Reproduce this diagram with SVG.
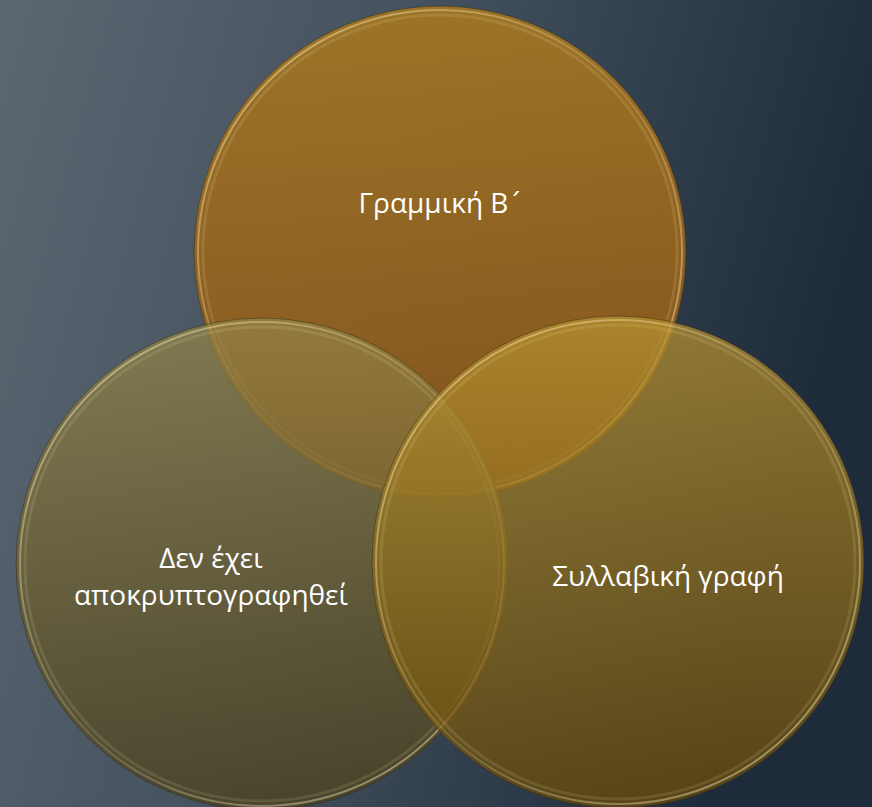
<svg xmlns="http://www.w3.org/2000/svg" width="872" height="807" viewBox="0 0 872 807">
  <defs>
    <linearGradient id="bg" x1="0" y1="0" x2="1" y2="0.25">
      <stop offset="0" stop-color="#5b6771"/>
      <stop offset="0.45" stop-color="#45525f"/>
      <stop offset="1" stop-color="#1e2b3b"/>
    </linearGradient>
    <linearGradient id="gTop" x1="0" y1="0" x2="0" y2="1">
      <stop offset="0" stop-color="#a67822"/>
      <stop offset="1" stop-color="#8a5317"/>
    </linearGradient>
    <linearGradient id="gLeft" x1="0" y1="0" x2="0" y2="1">
      <stop offset="0" stop-color="#958548"/>
      <stop offset="1" stop-color="#4c401a"/>
    </linearGradient>
    <linearGradient id="gRight" x1="0" y1="0" x2="0" y2="1">
      <stop offset="0" stop-color="#b89230"/>
      <stop offset="1" stop-color="#6a4c08"/>
    </linearGradient>
    <linearGradient id="rim" x1="0" y1="0" x2="1" y2="1">
      <stop offset="0" stop-color="#fff3c0" stop-opacity="0.55"/>
      <stop offset="0.5" stop-color="#fff3c0" stop-opacity="0.15"/>
      <stop offset="1" stop-color="#fff3c0" stop-opacity="0.55"/>
    </linearGradient>
  </defs>
  <style>
    .edge { fill: none; stroke: #2a2418; stroke-opacity: 0.45; stroke-width: 1; }
    .rim { fill: none; stroke: url(#rim); stroke-width: 2; }
    .rim2 { fill: none; stroke: #fff0b0; stroke-opacity: 0.12; stroke-width: 3; }
    .lbl { font-family: "Open Sans", "Noto Sans", "DejaVu Sans", sans-serif; font-size: 28px; fill: #ffffff; text-anchor: middle; }
    .tonos { font-family: "DejaVu Sans", sans-serif; font-size: 26px; }
  </style>
  <rect x="0" y="0" width="872" height="807" fill="url(#bg)"/>

  <g id="node-top">
    <circle cx="440" cy="252" r="246" fill="url(#gTop)" fill-opacity="0.9"/>
    <circle cx="440" cy="252" r="246" class="edge"/>
    <circle cx="440" cy="252" r="242" class="rim"/>
    <circle cx="440" cy="252" r="237" class="rim2"/>
    <text class="lbl" x="440" y="213">Γραμμική Β<tspan class="tonos">΄</tspan></text>
  </g>

  <g id="node-left">
    <circle cx="262" cy="564" r="246" fill="url(#gLeft)" fill-opacity="0.72"/>
    <circle cx="262" cy="564" r="246" class="edge"/>
    <circle cx="262" cy="564" r="242" class="rim"/>
    <circle cx="262" cy="564" r="237" class="rim2"/>
    <text class="lbl" x="211" y="568">Δεν έχει</text>
    <text class="lbl" x="211" y="605">αποκρυπτογραφηθεί</text>
  </g>

  <g id="node-right">
    <circle cx="618" cy="562" r="246" fill="url(#gRight)" fill-opacity="0.72"/>
    <circle cx="618" cy="562" r="246" class="edge"/>
    <circle cx="618" cy="562" r="242" class="rim"/>
    <circle cx="618" cy="562" r="237" class="rim2"/>
    <text class="lbl" x="668" y="586">Συλλαβική γραφή</text>
  </g>

  <g id="connectors"/>
</svg>
